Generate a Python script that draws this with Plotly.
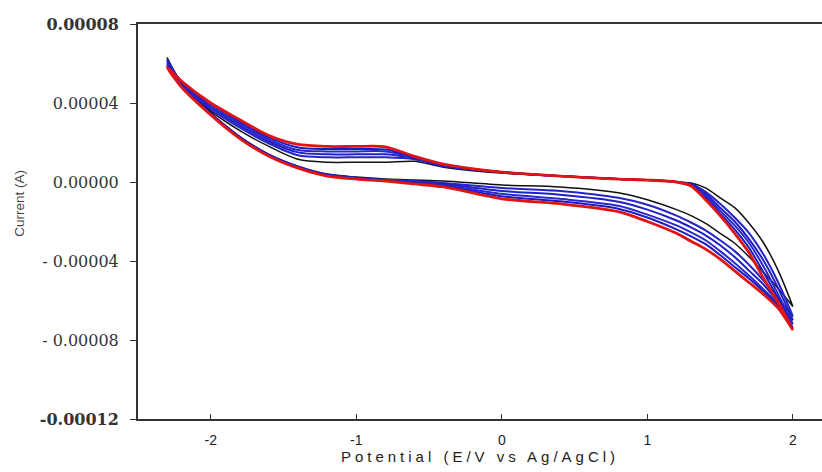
import plotly.graph_objects as go

# Potential grid (V vs Ag/AgCl), shared by all sweeps
potential = [-2.3, -2.2, -2.0, -1.8, -1.6, -1.4, -1.2, -1.0, -0.8, -0.6, -0.4, 0.0,
             0.4, 0.8, 1.0, 1.2, 1.3, 1.4, 1.5, 1.6, 1.7, 1.8, 1.9, 2.0]

# Currents in units of 1e-5 A, upper (forward) and lower (reverse) branches
cycle_names = ["Cycle 1", "Cycle 2", "Cycle 3", "Cycle 4", "Cycle 5", "Cycle 6"]
upper = [
    [6.3, 5.0, 3.6, 2.6, 1.8, 1.15, 1.0, 1.0, 1.0, 1.05, 0.75, 0.45, 0.3, 0.15, 0.1, 0.0, -0.05, -0.3, -0.8, -1.3, -2.1, -3.1, -4.5, -6.3],
    [6.2, 5.0, 3.7, 2.75, 1.95, 1.35, 1.25, 1.25, 1.25, 1.15, 0.8, 0.5, 0.3, 0.15, 0.1, 0.0, -0.1, -0.5, -1.1, -1.8, -2.6, -3.7, -5.1, -6.8],
    [6.1, 5.05, 3.8, 2.85, 2.05, 1.5, 1.4, 1.4, 1.4, 1.2, 0.85, 0.5, 0.3, 0.15, 0.1, 0.0, -0.15, -0.6, -1.3, -2.0, -2.9, -4.0, -5.4, -7.0],
    [6.0, 5.05, 3.85, 2.95, 2.15, 1.62, 1.55, 1.55, 1.55, 1.25, 0.85, 0.5, 0.3, 0.15, 0.1, 0.0, -0.15, -0.7, -1.45, -2.2, -3.1, -4.3, -5.7, -7.2],
    [5.9, 5.1, 3.95, 3.05, 2.25, 1.75, 1.67, 1.67, 1.65, 1.28, 0.88, 0.5, 0.3, 0.15, 0.1, 0.0, -0.2, -0.8, -1.6, -2.4, -3.35, -4.6, -5.9, -7.4],
    [5.8, 5.1, 4.0, 3.15, 2.35, 1.9, 1.8, 1.8, 1.78, 1.3, 0.9, 0.5, 0.3, 0.15, 0.1, 0.0, -0.2, -0.9, -1.7, -2.6, -3.6, -4.9, -6.1, -7.5],
]
lower = [
    [6.3, 5.0, 3.5, 2.3, 1.4, 0.8, 0.4, 0.25, 0.15, 0.1, 0.05, -0.15, -0.25, -0.55, -0.9, -1.4, -1.7, -2.1, -2.6, -3.1, -3.8, -4.6, -5.4, -6.3],
    [6.2, 4.95, 3.48, 2.28, 1.38, 0.78, 0.38, 0.22, 0.12, 0.05, -0.05, -0.3, -0.45, -0.8, -1.15, -1.7, -2.05, -2.45, -2.95, -3.5, -4.2, -5.0, -5.9, -6.8],
    [6.1, 4.9, 3.46, 2.26, 1.36, 0.76, 0.36, 0.2, 0.1, 0.0, -0.1, -0.45, -0.65, -1.0, -1.4, -1.95, -2.3, -2.7, -3.2, -3.8, -4.5, -5.2, -6.1, -7.0],
    [6.0, 4.88, 3.44, 2.24, 1.34, 0.74, 0.34, 0.18, 0.08, -0.04, -0.15, -0.6, -0.85, -1.2, -1.65, -2.2, -2.55, -2.95, -3.5, -4.1, -4.75, -5.45, -6.2, -7.2],
    [5.9, 4.84, 3.42, 2.22, 1.32, 0.72, 0.32, 0.16, 0.06, -0.07, -0.2, -0.72, -0.98, -1.35, -1.8, -2.4, -2.75, -3.15, -3.7, -4.3, -4.9, -5.55, -6.3, -7.4],
    [5.8, 4.8, 3.4, 2.2, 1.3, 0.7, 0.3, 0.15, 0.05, -0.1, -0.25, -0.85, -1.1, -1.5, -2.0, -2.6, -3.0, -3.4, -3.9, -4.5, -5.1, -5.7, -6.4, -7.5],
]
colors = ["#111111", "#2424c8", "#2020c4", "#2828cc", "#1c1cc0", "#e01414"]
widths = [1.5, 2.0, 2.0, 2.0, 2.0, 2.8]
SCALE = 1e-5

x_ticks = [-2, -1, 0, 1, 2]
x_ticktext = ["-2", "-1", "0", "1", "2"]
y_ticks = [0.00008, 0.00004, 0.0, -0.00004, -0.00008, -0.00012]
y_ticktext = ["<b>0.00008</b>", "0.00004", "0.00000", "- 0.00004", "- 0.00008", "<b>-0.00012</b>"]

fig = go.Figure()
for name, up, lo, c, w in zip(cycle_names, upper, lower, colors, widths):
    xs = potential + potential[::-1]
    ys = [v * SCALE for v in up] + [v * SCALE for v in lo[::-1]]
    fig.add_trace(go.Scatter(x=xs, y=ys, mode="lines", name=name,
                             line=dict(color=c, width=w, shape="spline", smoothing=0.8),
                             showlegend=False))

fig.update_layout(
    width=822, height=472,
    margin=dict(l=138, r=0, t=24, b=53),
    paper_bgcolor="white", plot_bgcolor="white",
    showlegend=False,
    annotations=[dict(
        text="Current (A)", textangle=-90,
        xref="paper", yref="paper", x=-0.1725, y=0.545,
        xanchor="center", yanchor="middle", showarrow=False,
        font=dict(family="Liberation Sans, Arial", size=13.5, color="#444444"),
    )],
)
fig.update_xaxes(
    range=[-2.5, 2.2], showgrid=False, zeroline=False,
    showline=True, linecolor="#333333", linewidth=2, mirror=True,
    ticks="inside", ticklen=5, tickcolor="#333333", tickwidth=1.2,
    tickvals=x_ticks, ticktext=x_ticktext, ticklabelstandoff=7,
    tickfont=dict(family="Liberation Sans, Arial", size=14, color="#222222"),
    title=dict(text="Potential (E/V vs Ag/AgCl)", standoff=2,
               font=dict(family="Liberation Sans, Arial", size=15, color="#222222")),
)
fig.update_yaxes(
    range=[-0.00012, 0.00008], showgrid=False, zeroline=False,
    showline=True, linecolor="#333333", linewidth=2,
    ticks="outside", ticklen=6, tickcolor="#333333", tickwidth=1.2,
    tickvals=y_ticks, ticktext=y_ticktext,
    tickfont=dict(family="DejaVu Serif", size=16, color="#333333"),
    ticklabelstandoff=8,
)

post = """
var t = document.querySelector('.g-xtitle text');
if (t) { t.style.letterSpacing = '4px'; }
"""
fig.write_html("out.html", post_script=post)
